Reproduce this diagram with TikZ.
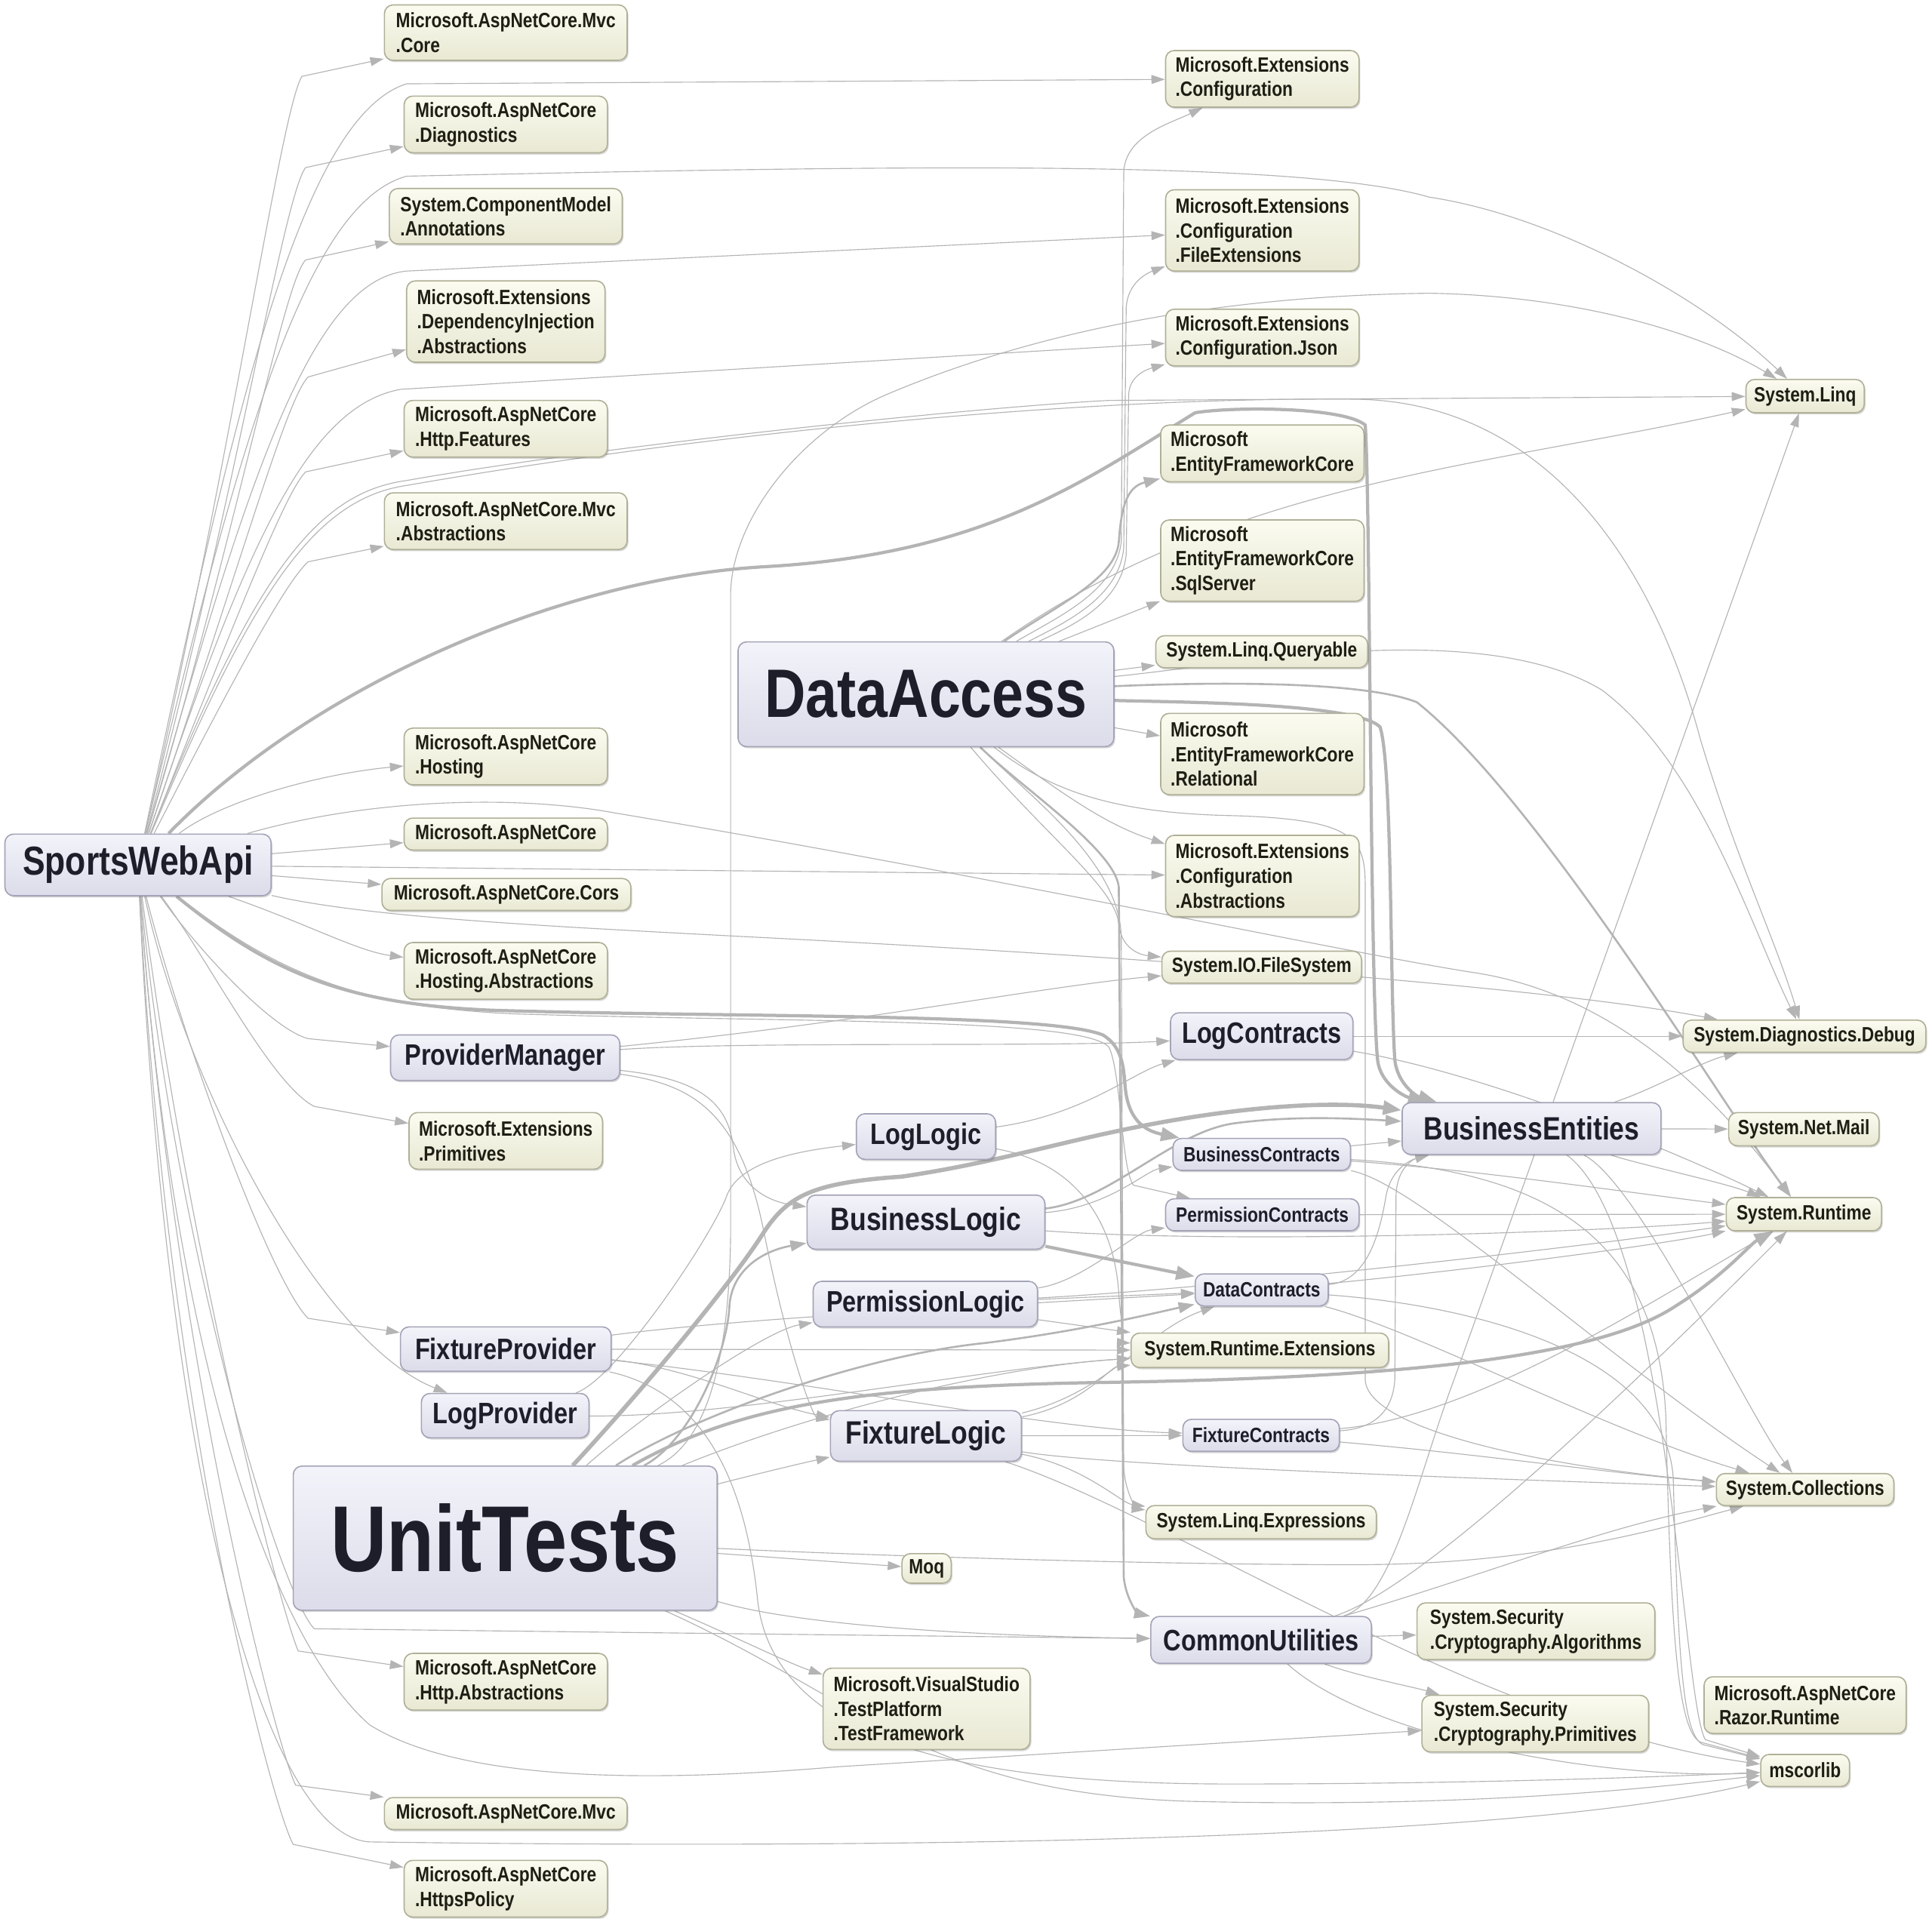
\documentclass[tikz,border=0pt]{standalone}
\usepackage{fontspec}
\setmainfont{Liberation Sans}[FakeStretch=0.83]
\usetikzlibrary{arrows.meta,shadows}
\definecolor{edgec}{HTML}{B4B4B4}
\definecolor{ytop}{HTML}{FBFBF0}
\definecolor{ybot}{HTML}{E8E8D3}
\definecolor{ydraw}{HTML}{B0B098}
\definecolor{ltop}{HTML}{F3F3FA}
\definecolor{lbot}{HTML}{DCDCEA}
\definecolor{ldraw}{HTML}{A4A4B8}
\definecolor{txty}{HTML}{1E1E14}
\definecolor{txtl}{HTML}{1E1E2A}
\newcommand\FntS{\fontsize{8.4}{10}\selectfont\bfseries}
\newcommand\FntM{\fontsize{12}{14}\selectfont\bfseries}
\newcommand\FntL{\fontsize{13.1}{15}\selectfont\bfseries}
\newcommand\FntSW{\fontsize{16.4}{19}\selectfont\bfseries}
\newcommand\FntDA{\fontsize{27.8}{32}\selectfont\bfseries}
\newcommand\FntUT{\fontsize{38}{44}\selectfont\bfseries}
\newcommand\mkbox[7]{%
  \pgfmathsetmacro\mkw{(#5-#3)*0.5}%
  \pgfmathsetmacro\mkh{(#6-#4)*0.5}%
  \node[#2, minimum width=\mkw pt, minimum height=\mkh pt] (#1) at ({(#3+#5)/2},{(#4+#6)/2}) {#7};}
\pgfdeclarelayer{bg}
\pgfsetlayers{bg,main}
\tikzset{
  boxbase/.style={rounded corners=3.5pt, line width=0.5pt, inner sep=1.5pt,
    drop shadow={shadow xshift=0.5pt,shadow yshift=-0.7pt,fill=black,opacity=0.16}},
  ext/.style={boxbase, draw=ydraw, top color=ytop, bottom color=ybot, text=txty, font=\FntS, align=left},
  prj/.style={boxbase, draw=ldraw, top color=ltop, bottom color=lbot, text=txtl, align=center},
  e/.style={draw=edgec, line width=0.35pt, -{Triangle[length=5.5pt,width=3.6pt]}},
  em/.style={draw=edgec, line width=0.8pt, -{Triangle[length=6.5pt,width=4.4pt]}},
  et/.style={draw=edgec, line width=1.3pt, -{Triangle[length=7.5pt,width=5.5pt]}},
}
\begin{document}
\begin{tikzpicture}[x=0.5pt,y=-0.5pt]
\begin{pgfonlayer}{bg}
\fill[white] (0,0) rectangle (1568,1560);
\end{pgfonlayer}
\useasboundingbox (0,0) rectangle (1568,1560);
% ---------- left column (external) ----------
\mkbox{mvccore}{ext}{312}{4}{509}{49}{Microsoft.AspNetCore.Mvc\\.Core}
\mkbox{diag}{ext}{328}{78}{493}{124}{Microsoft.AspNetCore\\.Diagnostics}
\mkbox{annot}{ext}{316}{153}{505}{198}{System.ComponentModel\\.Annotations}
\mkbox{diabs}{ext}{330}{228}{491}{294}{Microsoft.Extensions\\.DependencyInjection\\.Abstractions}
\mkbox{httpfeat}{ext}{328}{325}{493}{371}{Microsoft.AspNetCore\\.Http.Features}
\mkbox{mvcabs}{ext}{312}{400}{509}{446}{Microsoft.AspNetCore.Mvc\\.Abstractions}
\mkbox{hosting}{ext}{328}{591}{493}{637}{Microsoft.AspNetCore\\.Hosting}
\mkbox{aspcore}{ext}{328}{664}{493}{690}{Microsoft.AspNetCore}
\mkbox{cors}{ext}{310}{713}{512}{739}{Microsoft.AspNetCore.Cors}
\mkbox{hostabs}{ext}{328}{765}{493}{811}{Microsoft.AspNetCore\\.Hosting.Abstractions}
\mkbox{prim}{ext}{332}{903}{489}{949}{Microsoft.Extensions\\.Primitives}
\mkbox{httpabs}{ext}{328}{1342}{493}{1388}{Microsoft.AspNetCore\\.Http.Abstractions}
\mkbox{mvc}{ext}{312}{1459}{509}{1485}{Microsoft.AspNetCore.Mvc}
\mkbox{https}{ext}{328}{1510}{493}{1556}{Microsoft.AspNetCore\\.HttpsPolicy}
% ---------- middle column ----------
\mkbox{conf}{ext}{946}{41}{1103}{87}{Microsoft.Extensions\\.Configuration}
\mkbox{conffile}{ext}{946}{154}{1103}{220}{Microsoft.Extensions\\.Configuration\\.FileExtensions}
\mkbox{confjson}{ext}{946}{251}{1103}{297}{Microsoft.Extensions\\.Configuration.Json}
\mkbox{ef}{ext}{942}{345}{1107}{391}{Microsoft\\.EntityFrameworkCore}
\mkbox{efsql}{ext}{942}{422}{1107}{488}{Microsoft\\.EntityFrameworkCore\\.SqlServer}
\mkbox{linqq}{ext}{938}{516}{1110}{542}{System.Linq.Queryable}
\mkbox{efrel}{ext}{942}{579}{1107}{645}{Microsoft\\.EntityFrameworkCore\\.Relational}
\mkbox{confabs}{ext}{946}{678}{1103}{744}{Microsoft.Extensions\\.Configuration\\.Abstractions}
\mkbox{iofs}{ext}{943}{772}{1105}{798}{System.IO.FileSystem}
\mkbox{logc}{prj,font=\FntM}{950}{822}{1098}{860}{LogContracts}
\mkbox{busc}{prj,font=\FntS}{952}{924}{1096}{950}{BusinessContracts}
\mkbox{permc}{prj,font=\FntS}{946}{973}{1103}{999}{PermissionContracts}
\mkbox{datac}{prj,font=\FntS}{970}{1034}{1078}{1060}{DataContracts}
\mkbox{rtext}{ext}{918}{1082}{1127}{1110}{System.Runtime.Extensions}
\mkbox{fixc}{prj,font=\FntS}{960}{1152}{1087}{1178}{FixtureContracts}
\mkbox{linqexp}{ext}{930}{1222}{1117}{1249}{System.Linq.Expressions}
\mkbox{common}{prj,font=\FntM}{934}{1312}{1113}{1350}{CommonUtilities}
% ---------- projects ----------
\mkbox{da}{prj,font=\FntDA}{599}{521}{904}{606}{DataAccess}
\mkbox{pm}{prj,font=\FntM}{317}{840}{503}{877}{ProviderManager}
\mkbox{loglogic}{prj,font=\FntM}{695}{904}{808}{941}{LogLogic}
\mkbox{bl}{prj,font=\FntL}{655}{970}{848}{1014}{BusinessLogic}
\mkbox{pl}{prj,font=\FntM}{660}{1040}{842}{1077}{PermissionLogic}
\mkbox{fp}{prj,font=\FntM}{325}{1077}{496}{1113}{FixtureProvider}
\mkbox{lp}{prj,font=\FntM}{342}{1131}{478}{1167}{LogProvider}
\mkbox{fl}{prj,font=\FntL}{674}{1145}{829}{1186}{FixtureLogic}
\mkbox{ut}{prj,font=\FntUT}{238}{1190}{582}{1307}{UnitTests}
\mkbox{sw}{prj,font=\FntSW}{4}{677}{220}{727}{SportsWebApi}
% ---------- bottom middle ----------
\mkbox{moq}{ext}{732}{1261}{772}{1285}{Moq}
\mkbox{vstest}{ext}{668}{1354}{836}{1420}{Microsoft.VisualStudio\\.TestPlatform\\.TestFramework}
\mkbox{secalg}{ext}{1150}{1301}{1343}{1347}{System.Security\\.Cryptography.Algorithms}
\mkbox{secprim}{ext}{1154}{1376}{1338}{1422}{System.Security\\.Cryptography.Primitives}
% ---------- right ----------
\mkbox{be}{prj,font=\FntL}{1138}{895}{1348}{937}{BusinessEntities}
\mkbox{linq}{ext}{1417}{308}{1513}{335}{System.Linq}
\mkbox{debug}{ext}{1366}{828}{1563}{854}{System.Diagnostics.Debug}
\mkbox{mail}{ext}{1403}{903}{1525}{930}{System.Net.Mail}
\mkbox{rt}{ext}{1401}{972}{1527}{999}{System.Runtime}
\mkbox{coll}{ext}{1393}{1196}{1537}{1222}{System.Collections}
\mkbox{razor}{ext}{1383}{1361}{1547}{1407}{Microsoft.AspNetCore\\.Razor.Runtime}
\mkbox{mscorlib}{ext}{1429}{1424}{1501}{1450}{mscorlib}

\begin{pgfonlayer}{bg}
% ---------- SportsWebApi ----------
\draw[e] (sw) .. controls (190,360) and (228,90) .. (245,62) -- (mvccore);
\draw[e] (sw) .. controls (192,400) and (230,160) .. (248,136) -- (diag);
\draw[e] (sw) .. controls (195,420) and (230,230) .. (248,211) -- (annot);
\draw[e] (sw) .. controls (198,450) and (232,325) .. (250,306) -- (diabs);
\draw[e] (sw) .. controls (200,480) and (232,400) .. (248,383) -- (httpfeat);
\draw[e] (sw) .. controls (205,520) and (235,470) .. (250,456) -- (mvcabs);
\draw[e] (sw) .. controls (180,650) and (260,628) .. (hosting);
\draw[e] (sw) -- (aspcore);
\draw[e] (sw) -- (cors);
\draw[e] (sw) .. controls (250,750) and (290,772) .. (hostabs);
\draw[e] (sw) .. controls (170,780) and (220,880) .. (255,898) -- (prim);
\draw[e] (sw) .. controls (160,770) and (220,835) .. (250,843) -- (pm);
\draw[e] (sw) .. controls (150,850) and (220,1040) .. (250,1070) -- (fp);
\draw[e] (sw) .. controls (150,880) and (260,1090) .. (lp);
\draw[e] (sw) .. controls (150,1000) and (225,1300) .. (242,1340) -- (httpabs);
\draw[e] (sw) .. controls (140,1100) and (225,1420) .. (240,1449) -- (mvc);
\draw[e] (sw) .. controls (135,1150) and (222,1470) .. (238,1497) -- (https);
\draw[e] (sw) .. controls (140,1000) and (225,1290) .. (255,1322) -- (common);
\draw[e] (sw) .. controls (135,1200) and (215,1490) .. (300,1495) .. controls (800,1502) and (1250,1490) .. (mscorlib);
\draw[e] (sw) .. controls (140,1100) and (220,1330) .. (300,1400) .. controls (380,1450) and (550,1445) .. (680,1434) -- (secprim);
\draw[e] (sw) .. controls (190,330) and (245,95) .. (330,68) -- (conf);
\draw[e] (sw) .. controls (195,350) and (250,165) .. (330,143) .. controls (700,135) and (1050,128) .. (1160,160) .. controls (1260,175) and (1380,240) .. (linq);
\draw[e] (sw) .. controls (198,400) and (250,228) .. (330,220) -- (conffile);
\draw[e] (sw) .. controls (200,440) and (250,330) .. (325,316) -- (confjson);
\draw[e] (sw) .. controls (205,470) and (255,400) .. (330,390) .. controls (500,360) and (800,330) .. (900,325) -- (linq);
\draw[e] (sw) .. controls (205,480) and (255,405) .. (330,394) .. controls (600,347) and (900,322) .. (1100,324) .. controls (1250,326) and (1340,450) .. (1380,600) .. controls (1410,700) and (1440,760) .. (debug);
\draw[e] (sw) -- (confabs);
\draw[e] (sw) .. controls (300,648) and (420,645) .. (500,660) .. controls (800,710) and (1100,775) .. (1200,790) .. controls (1320,810) and (1400,900) .. (rt);
\draw[e] (sw) .. controls (300,745) and (450,752) .. (600,760) .. controls (900,775) and (1250,800) .. (debug);
\draw[et] (sw) .. controls (220,790) and (280,815) .. (400,820) .. controls (600,826) and (850,822) .. (895,840) .. controls (912,850) and (912,870) .. (913,880) .. controls (915,910) and (930,918) .. (busc);
\draw[e] (sw) .. controls (230,795) and (300,818) .. (420,823) .. controls (650,830) and (880,826) .. (900,850) .. controls (910,870) and (910,950) .. (920,962) -- (permc);
\draw[et] (sw) .. controls (250,560) and (450,470) .. (620,460) .. controls (800,450) and (880,390) .. (970,335) .. controls (1000,330) and (1090,330) .. (1108,345) .. controls (1112,400) and (1112,800) .. (1118,860) .. controls (1120,880) and (1140,890) .. (be);
% ---------- UnitTests ----------
\draw[et,line width=1.7pt] (ut) .. controls (520,1130) and (595,1040) .. (620,1000) .. controls (640,970) and (660,960) .. (732,955) .. controls (800,945) and (850,930) .. (907,918) .. controls (1000,898) and (1080,893) .. (be);
\draw[et] (ut) .. controls (600,1140) and (700,1125) .. (900,1122) .. controls (1150,1118) and (1300,1100) .. (1360,1060) .. controls (1400,1035) and (1420,1010) .. (rt);
\draw[em] (ut) .. controls (560,1150) and (700,1100) .. (800,1090) .. controls (880,1080) and (940,1065) .. (datac);
\draw[em] (ut) .. controls (560,1170) and (590,1100) .. (592,1060) .. controls (594,1030) and (620,1015) .. (bl);
\draw[e] (ut) -- (moq);
\draw[e] (ut) .. controls (600,1330) and (640,1350) .. (vstest);
\draw[e] (ut) .. controls (600,1200) and (640,1190) .. (fl);
\draw[e] (ut) .. controls (650,1320) and (800,1328) .. (common);
\draw[e] (ut) .. controls (575,1170) and (592,1100) .. (593,1000) -- (593,480) .. controls (595,420) and (650,350) .. (720,320) .. controls (850,265) and (1000,240) .. (1160,238) .. controls (1280,240) and (1380,270) .. (linq);
\draw[e] (ut) .. controls (650,1150) and (800,1110) .. (rtext);
\draw[e] (ut) .. controls (700,1380) and (750,1455) .. (964,1462) .. controls (1200,1468) and (1350,1450) .. (mscorlib);
\draw[e] (ut) .. controls (650,1260) and (900,1270) .. (1100,1270) .. controls (1250,1270) and (1350,1240) .. (coll);
\draw[e] (ut) .. controls (520,1150) and (620,1080) .. (pl);
% ---------- DataAccess ----------
\draw[e] (da) .. controls (860,500) and (905,480) .. (910,440) -- (912,140) .. controls (913,110) and (950,100) .. (conf);
\draw[e] (da) .. controls (865,505) and (908,485) .. (912,445) -- (914,250) .. controls (915,230) and (930,222) .. (conffile);
\draw[e] (da) .. controls (870,508) and (910,490) .. (914,450) -- (916,320) .. controls (917,305) and (930,300) .. (confjson);
\draw[em] (da) .. controls (860,490) and (905,470) .. (908,440) .. controls (910,410) and (915,395) .. (ef);
\draw[e] (da) -- (efsql);
\draw[e] (da) -- (linqq);
\draw[e] (da) -- (efrel);
\draw[e] (da) .. controls (870,650) and (900,670) .. (confabs);
\draw[e] (da) .. controls (850,680) and (905,720) .. (908,750) .. controls (910,770) and (925,775) .. (iofs);
\draw[et] (da) .. controls (950,570) and (1100,570) .. (1120,590) .. controls (1130,620) and (1128,800) .. (1132,860) .. controls (1134,880) and (1150,890) .. (be);
\draw[em] (da) .. controls (950,555) and (1100,550) .. (1150,570) .. controls (1250,650) and (1400,900) .. (rt);
\draw[em] (da) .. controls (830,640) and (905,690) .. (908,720) -- (912,1280) .. controls (914,1300) and (925,1310) .. (common);
\draw[e] (da) .. controls (850,640) and (900,660) .. (1000,662) .. controls (1100,665) and (1108,680) .. (1108,720) -- (1108,1120) .. controls (1110,1160) and (1250,1190) .. (coll);
\draw[e] (da) .. controls (840,650) and (908,700) .. (910,760) -- (912,1190) .. controls (913,1215) and (925,1225) .. (linqexp);
\draw[e] (da) .. controls (1000,540) and (1200,500) .. (1300,560) .. controls (1380,620) and (1420,750) .. (debug);
\draw[e] (da) .. controls (1000,390) and (1200,380) .. (linq);
% ---------- contracts ----------
\draw[e] (busc) -- (be);
\draw[e] (datac) .. controls (1110,1040) and (1120,1000) .. (1125,970) .. controls (1130,945) and (1150,940) .. (be);
\draw[e] (fixc) .. controls (1110,1160) and (1130,1150) .. (1132,1120) -- (1133,970) .. controls (1134,945) and (1150,940) .. (be);
\draw[e] (logc) .. controls (1200,870) and (1350,930) .. (rt);
\draw[e] (logc) -- (debug);
\draw[e] (busc) .. controls (1200,950) and (1300,965) .. (rt);
\draw[e] (busc) .. controls (1150,960) and (1300,1100) .. (coll);
\draw[e] (busc) .. controls (1250,950) and (1345,1000) .. (1352,1150) .. controls (1356,1330) and (1362,1405) .. (1380,1414) -- (mscorlib);
\draw[e] (permc) -- (rt);
\draw[e] (datac) .. controls (1200,1030) and (1350,1010) .. (rt);
\draw[e] (datac) .. controls (1150,1080) and (1300,1160) .. (coll);
\draw[e] (datac) .. controls (1200,1060) and (1352,1100) .. (1358,1200) .. controls (1362,1350) and (1366,1408) .. (1382,1416) -- (mscorlib);
\draw[e] (fixc) .. controls (1200,1150) and (1350,1050) .. (rt);
\draw[e] (fixc) .. controls (1200,1180) and (1300,1195) .. (coll);
\draw[e] (be) .. controls (1330,945) and (1400,960) .. (rt);
\draw[e] (be) -- (mail);
\draw[e] (be) .. controls (1340,885) and (1380,862) .. (debug);
\draw[e] (be) .. controls (1330,960) and (1420,1150) .. (coll);
\draw[e] (be) .. controls (1355,1000) and (1365,1380) .. (1384,1412) -- (mscorlib);
\draw[e] (common) -- (secalg);
\draw[e] (common) .. controls (1100,1360) and (1150,1370) .. (secprim);
\draw[e] (common) .. controls (1130,1300) and (1150,1200) .. (1180,1120) -- (linq);
\draw[e] (common) .. controls (1150,1290) and (1300,1150) .. (rt);
\draw[e] (common) .. controls (1200,1280) and (1300,1240) .. (coll);
\draw[e] (common) .. controls (1110,1410) and (1300,1445) .. (mscorlib);
% ---------- logic ----------
\draw[et] (bl) -- (datac);
\draw[em] (bl) .. controls (900,975) and (950,920) .. (1000,912) .. controls (1050,905) and (1100,908) .. (be);
\draw[e] (bl) .. controls (900,980) and (930,950) .. (busc);
\draw[e] (bl) .. controls (1000,1010) and (1300,1000) .. (rt);
\draw[e] (pl) .. controls (880,1040) and (920,1000) .. (permc);
\draw[e] (pl) -- (datac);
\draw[e] (pl) -- (rtext);
\draw[e] (pl) .. controls (1000,1045) and (1300,1010) .. (rt);
\draw[e] (loglogic) .. controls (880,905) and (920,870) .. (logc);
\draw[e] (loglogic) .. controls (880,945) and (905,1000) .. (908,1050) .. controls (910,1080) and (915,1090) .. (rtext);
\draw[e] (fl) -- (fixc);
\draw[e] (fl) .. controls (900,1130) and (930,1080) .. (datac);
\draw[e] (fl) .. controls (880,1140) and (900,1110) .. (rtext);
\draw[e] (fl) .. controls (900,1190) and (1200,1200) .. (coll);
\draw[e] (fl) .. controls (880,1190) and (910,1220) .. (linqexp);
\draw[e] (fl) .. controls (950,1230) and (1200,1400) .. (mscorlib);
% ---------- providers ----------
\draw[e] (pm) .. controls (600,845) and (850,850) .. (logc);
\draw[e] (pm) .. controls (560,875) and (590,890) .. (595,930) .. controls (598,960) and (620,975) .. (bl);
\draw[e] (pm) .. controls (700,830) and (850,800) .. (iofs);
\draw[e] (pm) .. controls (560,880) and (600,900) .. (620,1000) .. controls (640,1100) and (660,1150) .. (fl);
\draw[e] (fp) .. controls (560,1110) and (620,1140) .. (fl);
\draw[e] (fp) .. controls (650,1120) and (850,1160) .. (fixc);
\draw[e] (fp) -- (rtext);
\draw[e] (fp) .. controls (600,1070) and (800,1060) .. (datac);
\draw[e] (fp) .. controls (570,1130) and (605,1200) .. (615,1300) .. controls (630,1420) and (800,1448) .. (1000,1448) .. controls (1200,1448) and (1350,1442) .. (mscorlib);
\draw[e] (lp) .. controls (500,1120) and (580,1000) .. (590,970) .. controls (600,945) and (640,935) .. (loglogic);
\draw[e] (lp) .. controls (600,1150) and (800,1110) .. (rtext);
\end{pgfonlayer}
\end{tikzpicture}
\end{document}
